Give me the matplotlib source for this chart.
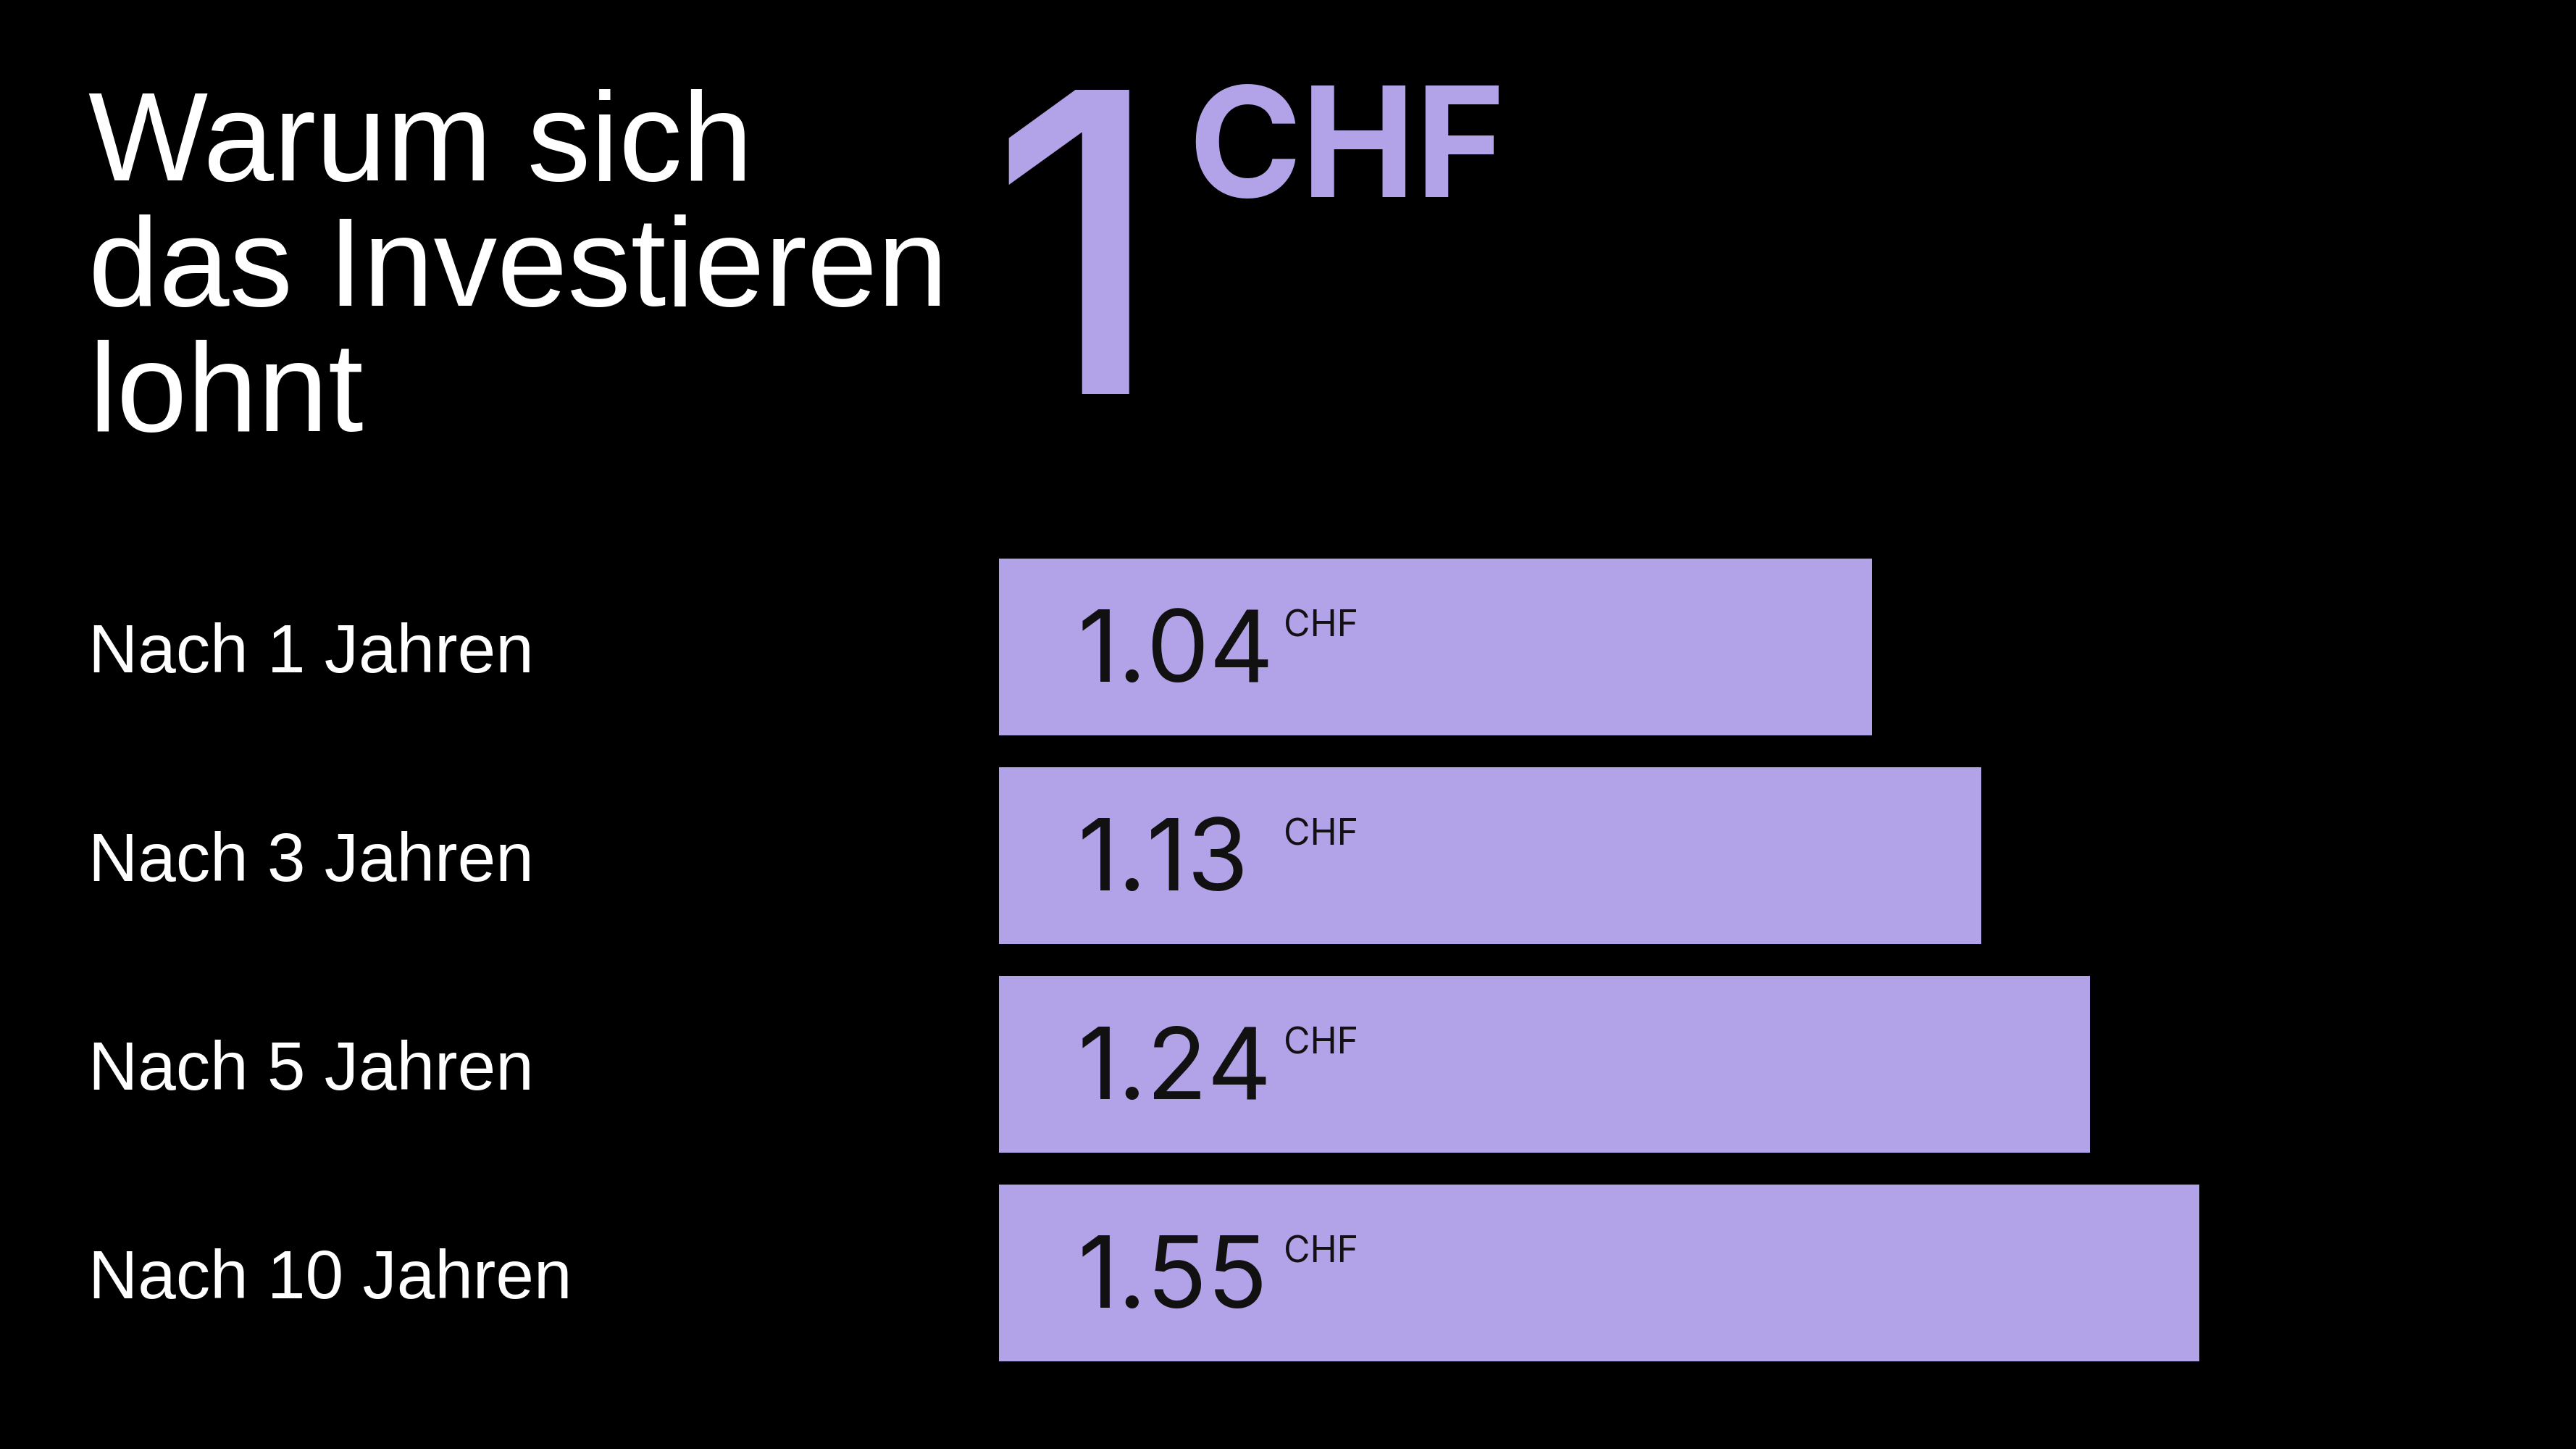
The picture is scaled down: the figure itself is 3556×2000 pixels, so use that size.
import matplotlib
matplotlib.use("Agg")
import matplotlib.pyplot as plt
from matplotlib.transforms import blended_transform_factory

# Daten aus dem Bild
zeitraeume = ["Nach 1 Jahren", "Nach 3 Jahren", "Nach 5 Jahren", "Nach 10 Jahren"]
werte = [1.04, 1.13, 1.24, 1.55]
# Balkenlaengen wie im Bild (nicht proportional zu den Werten)
balken_laenge = [8, 9, 10, 11]
titel_zeilen = ["Warum sich", "das Investieren", "lohnt"]
start_betrag = "1"
waehrung = "CHF"

lila = "#B2A2E8"
schrift = ["Liberation Sans", "DejaVu Sans"]
inter = ["Inter", "DejaVu Sans"]
plt.rcParams["font.family"] = schrift

fig = plt.figure(figsize=(35.56, 20), dpi=100, facecolor="black")

# Titel, drei Zeilen
for i, zeile in enumerate(titel_zeilen):
    fig.text(122 / 3556, 1 - (249 + i * 173) / 2000, zeile, color="white",
             fontsize=126, va="baseline", ha="left")

# grosse 1 und CHF
fig.text(1365 / 3556, 1 - 544 / 2000, start_betrag, color=lila, fontsize=415,
         fontweight="medium", family=inter, va="baseline", ha="left")
fig.text(1640 / 3556, 1 - 272 / 2000, waehrung, color=lila, fontsize=152,
         fontweight="bold", family=inter, va="baseline", ha="left")

# Balken
ax = fig.add_axes([1379 / 3556, 99 / 2000, 1657 / 3556, 1152 / 2000])
ax.set_facecolor("black")
pos = list(range(len(werte)))
ax.barh(pos, balken_laenge, height=0.85, color=lila, left=0)
ax.set_xlim(0, 11)
ax.set_ylim(3.5, -0.5)
ax.axis("off")

trans = blended_transform_factory(fig.transFigure, ax.transData)
for i, (name, w) in enumerate(zip(zeitraeume, werte)):
    ax.text(122 / 3556, i + 0.122, name, transform=trans, color="white",
            fontsize=68, va="baseline", ha="left")
    ax.text(0.72, i + 0.167, f"{w:.2f}", color="#111111", fontsize=99,
            family=inter, va="baseline", ha="left")
    ax.text(2.61, i - 0.05, waehrung, color="#111111", fontsize=36,
            family=inter, va="baseline", ha="left")

fig.savefig("out.png", dpi=100, facecolor="black")
